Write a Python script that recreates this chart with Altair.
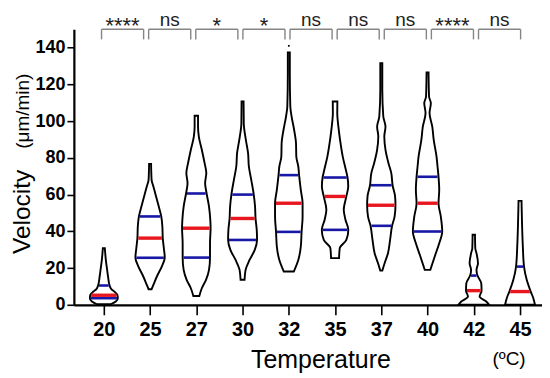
import altair as alt
import pandas as pd
import numpy as np

temps = ["20", "25", "27", "30", "32", "35", "37", "40", "42", "45"]

# Violin outlines: velocity (um/min) and relative density (half-width)
vel_20 = [0.3, 1.8, 3.6, 5.4, 7.2, 8.5, 10.5, 15.4, 19.0, 24.4, 30.8]
den_20 = [7.0, 12.0, 14.0, 13.5, 10.5, 7.5, 5.8, 4.2, 3.3, 2.0, 1.0]
vel_25 = [8.5, 10.8, 15.4, 20.8, 25.6, 30.8, 36.3, 42.6, 48.1, 53.5, 59.0, 64.4, 68.0, 76.7]
den_25 = [1.5, 3.3, 6.8, 11.7, 14.7, 13.8, 12.7, 12.3, 11.2, 8.7, 6.0, 3.3, 1.5, 1.0]
vel_27 = [4.8, 9.0, 13.6, 19.0, 25.7, 33.5, 41.7, 46.2, 53.5, 60.6, 66.2, 71.7, 77.1, 84.4, 91.6, 97.1, 102.9]
den_27 = [3.0, 5.5, 9.7, 12.7, 13.7, 13.7, 14.3, 14.0, 12.7, 10.3, 8.8, 10.0, 8.3, 5.5, 2.5, 1.7, 1.7]
vel_30 = [13.6, 19.0, 24.4, 29.9, 35.3, 40.8, 47.0, 53.5, 60.0, 68.0, 75.3, 82.6, 89.8, 98.9, 110.7]
den_30 = [2.0, 3.0, 7.0, 12.2, 14.5, 14.2, 13.0, 12.5, 11.2, 8.7, 6.3, 5.5, 3.3, 1.2, 1.0]
vel_32 = [18.1, 24.4, 31.7, 39.7, 48.0, 55.3, 62.6, 70.6, 75.3, 80.7, 88.0, 95.3, 102.5, 108.0, 126.2, 137.4]
den_32 = [5.0, 9.5, 12.0, 12.8, 13.8, 13.8, 12.0, 10.3, 9.5, 7.5, 7.2, 5.3, 2.8, 1.5, 1.0, 1.0]
vel_35 = [25.4, 30.8, 35.3, 40.8, 46.2, 51.7, 59.0, 64.4, 69.3, 73.5, 80.7, 89.8, 97.1, 104.4, 110.7]
den_35 = [4.0, 4.7, 11.3, 13.3, 10.5, 8.7, 11.3, 13.2, 12.5, 10.8, 7.7, 5.0, 3.3, 2.2, 2.3]
vel_37 = [18.6, 22.6, 28.1, 35.3, 43.0, 48.0, 54.2, 59.0, 65.1, 71.7, 77.1, 84.4, 91.6, 97.1, 102.5, 117.1, 131.6]
den_37 = [1.0, 3.3, 6.7, 8.8, 10.8, 13.3, 14.2, 13.8, 11.3, 10.0, 7.2, 4.2, 3.0, 4.2, 2.0, 1.0, 1.0]
vel_40 = [19.0, 26.3, 33.5, 39.9, 48.0, 55.3, 62.6, 69.7, 75.3, 80.7, 89.8, 97.1, 104.4, 109.8, 113.4, 126.5]
den_40 = [2.8, 7.2, 11.7, 14.7, 13.3, 11.0, 11.7, 11.0, 10.0, 9.0, 6.2, 4.7, 2.0, 3.3, 1.5, 1.0]
vel_42 = [0.0, 1.8, 4.5, 7.7, 11.7, 15.9, 19.0, 22.6, 28.1, 30.8, 38.1]
den_42 = [15.5, 12.5, 5.8, 7.8, 7.5, 3.7, 2.7, 4.2, 2.7, 1.5, 1.2]
vel_45 = [0.0, 3.6, 7.2, 13.6, 20.8, 31.7, 44.4, 56.6]
den_45 = [15.0, 13.3, 10.7, 6.7, 4.0, 2.8, 2.0, 1.5]

q1 = [3.6, 25.6, 25.7, 35.3, 39.7, 40.8, 43.0, 39.9, None, None]
med = [5.2, 36.3, 41.7, 47.0, 55.3, 59.0, 54.2, 55.3, 7.7, 7.2]
q3 = [10.5, 48.1, 60.6, 60.0, 70.6, 69.3, 65.1, 69.7, 15.9, 20.8]

sig = ["****", "ns", "*", "*", "ns", "ns", "ns", "****", "ns"]

outlier_temp = ["32"]
outlier_vel = [141.0]

vels = [vel_20, vel_25, vel_27, vel_30, vel_32, vel_35, vel_37, vel_40, vel_42, vel_45]
dens = [den_20, den_25, den_27, den_30, den_32, den_35, den_37, den_40, den_42, den_45]

K = 46.33  # density units per category step
FONT = "Liberation Sans"

rows = []
for i, t in enumerate(temps):
    for v, d in zip(vels[i], dens[i]):
        rows.append({"idx": i, "temp": t, "v": v, "d": d})
prof = pd.DataFrame(rows).sort_values(["idx", "v"])

qrows = []
for i, t in enumerate(temps):
    for kind, q in (("q1", q1[i]), ("med", med[i]), ("q3", q3[i])):
        if q is None:
            continue
        d = float(np.interp(q, vels[i], dens[i]))
        qrows.append({"idx": i, "temp": t, "v": q, "d": d, "kind": kind})
qdf = pd.DataFrame(qrows)

brows = []
for i, s in enumerate(sig):
    start = i * 1.019 - 0.05
    end = start + 0.91
    brows.append({"s": start, "e": end, "c": (start + end) / 2, "label": s,
                  "stars": s != "ns"})
bdf = pd.DataFrame(brows)
legs = pd.DataFrame(
    [{"x": r["s"]} for r in brows] + [{"x": r["e"]} for r in brows]
)
odf = pd.DataFrame({"temp": outlier_temp, "v": outlier_vel,
                    "idx": [temps.index(t) for t in outlier_temp]})

xs = alt.Scale(domain=[-0.648, 9.475], nice=False, zero=False)
ys = alt.Scale(domain=[0, 150], nice=False, zero=False)

label_expr = "[" + ",".join("'" + t + "'" for t in temps) + "][datum.value]"

XAX = alt.Axis(values=list(range(10)), labelExpr=label_expr, tickSize=10,
               labelPadding=5, labelFontSize=20, title=None)
YAX = alt.Axis(values=list(range(0, 141, 20)), tickSize=7, labelPadding=2,
               labelFontSize=18, title=None)


def X(field):
    return alt.X(field, scale=xs, axis=XAX, title=None)


def Y(field):
    return alt.Y(field, scale=ys, axis=YAX, title=None)


violins = alt.Chart(prof).mark_area(
    orient="horizontal", fill="white", stroke="black", strokeWidth=1.9,
    interpolate="monotone"
).transform_calculate(
    lo="datum.idx - datum.d / " + str(K),
    hi="datum.idx + datum.d / " + str(K),
).encode(
    y=Y("v:Q"),
    x=X("lo:Q"),
    x2="hi:Q",
    detail="temp:N",
)

qlines = alt.Chart(qdf).transform_calculate(
    lo="datum.idx - (datum.d - 0.9) / " + str(K),
    hi="datum.idx + (datum.d - 0.9) / " + str(K),
).encode(
    y=Y("v:Q"),
    x=X("lo:Q"),
    x2="hi:Q",
)
blue = qlines.transform_filter("datum.kind != 'med'").mark_rule(
    color="#1818a6", strokeWidth=2.6)
red = qlines.transform_filter("datum.kind == 'med'").mark_rule(
    color="#e8161e", strokeWidth=3.4)

outl = alt.Chart(odf).mark_square(size=3, color="black", opacity=1).encode(
    x=X("idx:Q"),
    y=Y("v:Q"),
)

btop = alt.Chart(bdf).mark_rule(color="#858585", strokeWidth=1.4).transform_calculate(
    top="150").encode(
    x=X("s:Q"),
    x2="e:Q",
    y=Y("top:Q"),
)
bleg = alt.Chart(legs).mark_rule(color="#858585", strokeWidth=1.4).transform_calculate(
    y1="144.5", y2="150").encode(
    x=X("x:Q"),
    y=Y("y1:Q"),
    y2="y2:Q",
)

ns_text = alt.Chart(bdf).transform_filter("!datum.stars").mark_text(
    font=FONT, fontSize=19, color="#222222", baseline="alphabetic",
    align="center"
).encode(x=X("c:Q"), y=alt.value(-3.5), text="label:N")
st_text = alt.Chart(bdf).transform_filter("datum.stars").mark_text(
    font=FONT, fontSize=22, color="#222222", baseline="alphabetic",
    align="center"
).encode(x=X("c:Q"), y=alt.value(3.5), text="label:N")

one = pd.DataFrame({"a": [0]})
t_vel = alt.Chart(one).mark_text(
    text="Velocity", font=FONT, fontSize=24.5, angle=270, align="center",
    baseline="alphabetic", color="black"
).encode(x=alt.value(-44), y=alt.value(183))
t_unit = alt.Chart(one).mark_text(
    text="(μm/min)", font=FONT, fontSize=19, angle=270, align="center",
    baseline="alphabetic", color="black"
).encode(x=alt.value(-45), y=alt.value(82))
t_temp = alt.Chart(one).mark_text(
    text="Temperature", font=FONT, fontSize=25, align="center",
    baseline="alphabetic", color="black"
).encode(x=alt.value(247.5), y=alt.value(339))
t_c = alt.Chart(one).mark_text(
    text="(ºC)", font=FONT, fontSize=19, align="center",
    baseline="alphabetic", color="black"
).encode(x=alt.value(436), y=alt.value(336))

chart = alt.layer(
    violins, blue, red, outl, btop, bleg, ns_text, st_text,
    t_vel, t_unit, t_temp, t_c
).properties(
    width=469, height=276,
    autosize=alt.AutoSizeParams(type="none"),
    padding={"left": 66, "top": 21, "right": 0, "bottom": 70},
).configure_view(stroke=None).configure_axis(
    grid=False, domainColor="black", domainWidth=2.2, tickColor="black",
    tickWidth=1.6, labelColor="black", labelFont=FONT,
    labelFontWeight="bold"
)

chart.save("out.html", embed_options={"renderer": "svg", "actions": False})
